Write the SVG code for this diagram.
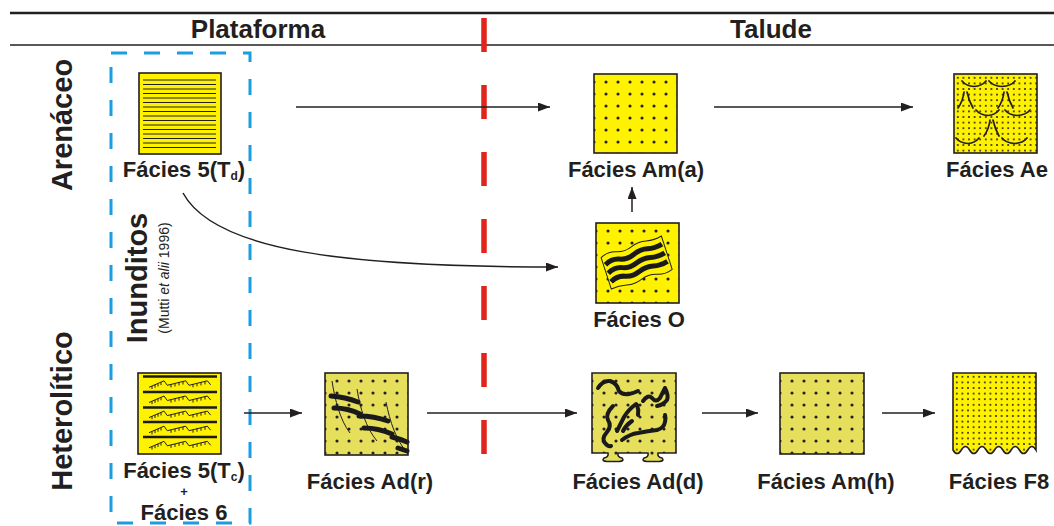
<svg xmlns="http://www.w3.org/2000/svg" width="1054" height="526" viewBox="0 0 1054 526">
<style>
text{font-family:"Liberation Sans",Arial,sans-serif;font-weight:bold;fill:#231f20}
.lbl{font-size:22px;text-anchor:middle}
.hdr{font-size:26px;text-anchor:middle}
.side{font-size:29px;text-anchor:middle}
.box{stroke:#231f20;stroke-width:1.6}
.y{fill:#fff200}
.k{fill:#e6df5c}
.ln{fill:none;stroke:#231f20;stroke-width:1.5}
.thin{fill:none;stroke:#231f20;stroke-width:1}
.blk{fill:none;stroke:#1a1a1a;stroke-linecap:round}
</style>
<defs>
<marker id="ah" markerWidth="12" markerHeight="10" refX="12" refY="4.5" orient="auto" markerUnits="userSpaceOnUse">
<path d="M0,0 L12,4.5 L0,9 Z" fill="#231f20"/>
</marker>
<pattern id="dots" patternUnits="userSpaceOnUse" x="6" y="2" width="12" height="12">
<circle cx="6" cy="6" r="1.55" fill="#231f20"/>
</pattern>
<pattern id="fdots" patternUnits="userSpaceOnUse" x="1" y="1" width="5.6" height="5.6">
<circle cx="2.8" cy="2.8" r="1" fill="#231f20"/>
</pattern>
<g id="rip" class="thin">
<path d="M11,0 L26,-6.5 L29.3,-2 L47.7,-6.5 L51,-2 L69.3,-6.5 L72.7,-2.5"/>
<path d="M14,-1.3v3M17,-2.6v3M20,-3.9v3M23,-5.2v3M33,-2.9v3M37,-3.9v3M41,-4.9v3M45,-5.8v3M55,-3v3M59,-4v3M63,-4.9v3M67,-5.9v3"/>
</g>
</defs>

<g id="header">
<line x1="10" y1="13" x2="1054" y2="13" stroke="#231f20" stroke-width="2.6"/>
<line x1="10" y1="45" x2="1054" y2="45" stroke="#231f20" stroke-width="1.5"/>
<text class="hdr" x="258" y="37.5">Plataforma</text>
<text class="hdr" x="771" y="37.5">Talude</text>
</g>

<g id="divider">
<path d="M484,18 V454" stroke="#e1251b" stroke-width="5.5" stroke-dasharray="34 33" fill="none"/>
</g>

<g id="inunditos">
<rect x="111" y="53" width="139" height="470" fill="none" stroke="#1b9de2" stroke-width="3" stroke-dasharray="16 17"/>
<text class="side" transform="translate(147,278) rotate(-90)">Inunditos</text>
<text transform="translate(169,278) rotate(-90)" text-anchor="middle" style="font-size:14px;font-weight:normal">(Mutti <tspan font-style="italic">et alii</tspan> 1996)</text>
</g>

<g id="rows">
<text class="side" transform="translate(72,125) rotate(-90)">Arenáceo</text>
<text class="side" transform="translate(72,411) rotate(-90)">Heterolítico</text>
</g>

<g id="connectors">
<path class="ln" d="M296,107 H550" marker-end="url(#ah)"/>
<path class="ln" d="M714,107 H913" marker-end="url(#ah)"/>
<path class="ln" d="M632,212 V187" marker-end="url(#ah)"/>
<path class="ln" d="M183,193 C215,252 350,267 558,267" marker-end="url(#ah)"/>
<path class="ln" d="M244,413 H302" marker-end="url(#ah)"/>
<path class="ln" d="M427,413 H577" marker-end="url(#ah)"/>
<path class="ln" d="M702,413 H758" marker-end="url(#ah)"/>
<path class="ln" d="M882,413 H935" marker-end="url(#ah)"/>
</g>

<g id="facies-5Td">
<rect class="box y" x="139" y="73" width="82" height="81"/>
<path class="thin" stroke="#3a3a3a" d="M143,80H216M143,84.5H216M143,89H216M143,93.5H216M143,98H216M143,102.5H216M143,107H216M143,111.5H216M143,116H216M143,120.5H216M143,125H216M143,129.5H216M143,134H216M143,138.5H216M143,143H216M143,147.5H216"/>
<text class="lbl" x="184" y="177">Fácies 5(T<tspan font-size="12" dy="3">d</tspan><tspan dy="-3">)</tspan></text>
</g>

<g id="facies-Ama">
<g transform="translate(594,74)">
<rect class="y" width="83" height="79"/>
<rect fill="url(#dots)" width="83" height="79"/>
<rect class="box" fill="none" width="83" height="79"/>
</g>
<text class="lbl" x="636" y="177">Fácies Am(a)</text>
</g>

<g id="facies-Ae">
<g transform="translate(954,74)">
<rect class="y" width="83" height="79"/>
<rect fill="url(#fdots)" width="83" height="79"/>
<rect class="box" fill="none" width="83" height="79"/>
</g>
<g fill="none" stroke="#231f20" stroke-width="1.7" stroke-linecap="round">
<path d="M962,81 Q966,86 974,86.5 Q982,86 986,81M989,81 Q993,86 1002,86.5 Q1011,86 1015,81M976,110 Q980,115 988,115.5 Q995,115 999,110M1005,110 Q1009,115 1017,115.5 Q1026,115 1030,110M956,138 Q960,143 968,143.5 Q975,143 979,138M1002,138 Q1006,143 1015,143.5 Q1023,143 1027,138"/>
<path d="M964,92 Q963,101 958,108M967,92 Q969,101 973,108M1004,92 Q1003,101 998,108M1007,92 Q1009,101 1013,108M990,120 Q989,129 984,136M993,120 Q995,129 999,136"/>
</g>
<text class="lbl" x="997" y="177">Fácies Ae</text>
</g>

<g id="facies-O">
<g transform="translate(596,223)">
<rect class="y" width="83" height="80"/>
<rect fill="url(#dots)" width="83" height="80"/>
<rect class="box" fill="none" width="83" height="80"/>
<g transform="translate(40.5,40) rotate(-18)">
<path d="M-32,-16 q8,-4 16,-1 t16,0 t16,-1 t16,0 L32,17 q-8,3 -16,0 t-16,0 t-16,1 t-16,-1 Z" fill="#fff200" stroke="#231f20" stroke-width="1"/>
<path d="M-30,-8 q8,-4 15,-1 t15,0 t15,-1 t15,0 M-30,1 q8,-4 15,-1 t15,0 t15,-1 t15,0 M-30,10 q8,-4 15,-1 t15,0 t15,-1 t15,0" fill="none" stroke="#1a1a1a" stroke-width="5"/>
</g>
</g>
<text class="lbl" x="639" y="327">Fácies O</text>
</g>

<g id="facies-5Tc">
<rect class="box y" x="138" y="373" width="83" height="81"/>
<path d="M143,376.5H217M143,392H217M143,407.5H217M143,422H217M143,437H217" stroke="#1a1a1a" stroke-width="2.6"/>
<use href="#rip" transform="translate(138,387.3)"/>
<use href="#rip" transform="translate(138,402.5)"/>
<use href="#rip" transform="translate(138,417.6)"/>
<use href="#rip" transform="translate(138,432.7)"/>
<use href="#rip" transform="translate(138,447.8)"/>
<text class="lbl" x="184" y="478">Fácies 5(T<tspan font-size="12" dy="3">c</tspan><tspan dy="-3">)</tspan></text>
<text x="184" y="496" text-anchor="middle" style="font-size:13px">+</text>
<text class="lbl" x="184" y="520">Fácies 6</text>
</g>

<g id="facies-Adr">
<g transform="translate(325,373)">
<rect class="k" width="83" height="82"/>
<rect fill="url(#dots)" width="83" height="82"/>
</g>
<path class="thin" d="M332,381 C335,400 340,420 350,433M357,389 C360,408 366,428 377,441M386,402 C390,422 396,440 408,454"/>
<path class="blk" stroke-width="5" d="M331,396 Q345,397 358,402M334,408 Q348,408 360,414M359,416 Q374,416 388,421M364,428 Q378,428 392,434M392,437 Q400,439 407,442M398,448 L407,451"/>
<rect class="box" fill="none" x="325" y="373" width="83" height="82"/>
<text class="lbl" x="370" y="489">Fácies Ad(r)</text>
</g>

<g id="facies-Add">
<path d="M592,373 H676 V453 H658 Q657,457 662,458 Q665,461 659,461.5 H647 Q641,461 644,458 Q649,457 648,453 H618 Q617,457 622,458 Q625,461 619,461.5 H607 Q601,461 604,458 Q609,457 608,453 H592 Z" fill="#e6df5c"/>
<g transform="translate(592,373)"><path d="M0,0 H84 V80 H66 Q65,84 70,85 Q73,88 67,88.5 H55 Q49,88 52,85 Q57,84 56,80 H26 Q25,84 30,85 Q33,88 27,88.5 H15 Q9,88 12,85 Q17,84 16,80 H0 Z" fill="url(#dots)"/></g>
<g class="blk" stroke-width="4">
<path d="M598,388 Q603,380 610,381 Q617,383 619,391 Q622,395 629,394 Q634,393 638,391"/>
<path d="M643,401 Q648,394 652,398 Q656,403 660,398 Q664,390 665,388 M665,388 Q669,396 667,400 Q663,405 657,406"/>
<path d="M613,406 Q605,414 608,420 Q612,426 607,432 Q601,439 605,443 Q608,447 611,446"/>
<path d="M636,404 Q628,410 624,417 Q620,425 617,431"/>
<path d="M632,421 Q626,425 623,431"/>
<path d="M637,405 Q639,410 638,415"/>
<path d="M622,440 Q630,434 638,433 Q648,431 657,430 Q664,428 665,422 Q666,418 665,415"/>
</g>
<path d="M592,373 H676 V453 H658 Q657,457 662,458 Q665,461 659,461.5 H647 Q641,461 644,458 Q649,457 648,453 H618 Q617,457 622,458 Q625,461 619,461.5 H607 Q601,461 604,458 Q609,457 608,453 H592 Z" fill="none" stroke="#231f20" stroke-width="1.6"/>
<text class="lbl" x="638" y="489">Fácies Ad(d)</text>
</g>

<g id="facies-Amh">
<g transform="translate(780,373)">
<rect class="k" width="84" height="81"/>
<rect fill="url(#dots)" width="84" height="81"/>
<rect class="box" fill="none" width="84" height="81"/>
</g>
<text class="lbl" x="826" y="489">Fácies Am(h)</text>
</g>

<g id="facies-F8">
<g transform="translate(953,373)">
<path d="M0,0 H83 V77 q-4.15,-7 -8.3,0 t-8.3,0 q-4.15,-7 -8.3,0 t-8.3,0 q-4.15,-7 -8.3,0 t-8.3,0 q-4.15,-7 -8.3,0 t-8.3,0 q-4.15,-7 -8.3,0 t-8.3,0 Z" fill="#fff200"/>
<path d="M0,0 H83 V77 q-4.15,-7 -8.3,0 t-8.3,0 q-4.15,-7 -8.3,0 t-8.3,0 q-4.15,-7 -8.3,0 t-8.3,0 q-4.15,-7 -8.3,0 t-8.3,0 q-4.15,-7 -8.3,0 t-8.3,0 Z" fill="url(#fdots)" stroke="#231f20" stroke-width="1.6"/>
</g>
<text class="lbl" x="999" y="489">Fácies F8</text>
</g>
</svg>
